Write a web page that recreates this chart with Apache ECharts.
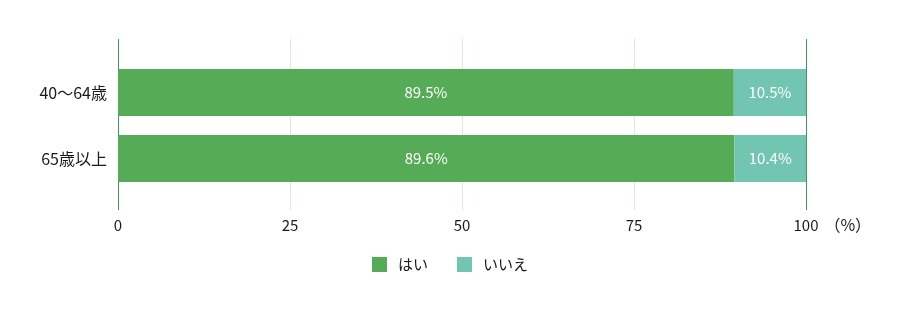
<!DOCTYPE html>
<html><head><meta charset="utf-8">
<script src="https://cdn.jsdelivr.net/npm/echarts@6/dist/echarts.min.js"></script>
<style>html,body{margin:0;padding:0;background:#fff}#c{width:900px;height:310px}</style>
</head><body><div id="c"></div>
<script>
const categories = ['40〜64歳', '65歳以上'];
const yesValues = [89.5, 89.6];
const noValues = [10.5, 10.4];
const seriesNames = ['はい', 'いいえ'];
const xTicks = [0, 25, 50, 75, 100];

const FONT = '"Noto Sans CJK JP", "Noto Sans", sans-serif';
const chart = echarts.init(document.getElementById('c'));
chart.setOption({
  animation: false,
  textStyle: { fontFamily: FONT },
  color: ['#55ab56', '#71c5b1'],
  grid: [
    { left: 118, width: 688, top: 39, height: 171 },
    { left: 118, width: 688, top: 59.5, height: 132 }
  ],
  xAxis: [
    {
      gridIndex: 0, type: 'value', min: xTicks[0], max: xTicks[xTicks.length - 1], interval: 25,
      axisLine: { show: false }, axisTick: { show: false },
      splitLine: { show: true, showMinLine: true, showMaxLine: true,
        lineStyle: { width: 1, color: ['#3a9a62', '#d6ebe7', '#d6ebe7', '#d6ebe7', '#3a9a62'] } },
      axisLabel: { color: '#1a1a1a', fontSize: 15, margin: 8, fontFamily: FONT },
      name: '（%）', nameLocation: 'end', nameGap: 9,
      nameTextStyle: { color: '#1a1a1a', fontSize: 16, verticalAlign: 'top', padding: [7, 0, 0, 0], fontFamily: FONT }
    },
    {
      gridIndex: 1, type: 'value', min: 0, max: 100, show: false
    }
  ],
  yAxis: [
    { gridIndex: 0, type: 'value', show: false },
    {
      gridIndex: 1, type: 'category', data: categories, inverse: true,
      axisLine: { show: false }, axisTick: { show: false },
      axisLabel: { color: '#1a1a1a', fontSize: 16, margin: 11, fontFamily: FONT }
    }
  ],
  legend: {
    bottom: 33, left: 'center', itemWidth: 15, itemHeight: 15, itemGap: 29,
    icon: 'rect', data: seriesNames,
    textStyle: { color: '#1a1a1a', fontSize: 15, fontFamily: FONT, padding: [0, 0, 0, 6] }
  },
  series: [
    {
      name: seriesNames[0], type: 'bar', stack: 'a', xAxisIndex: 1, yAxisIndex: 1,
      barWidth: 47, data: yesValues,
      label: { show: true, position: 'inside', color: '#fff', fontSize: 15, formatter: p => p.value.toFixed(1) + '%' }
    },
    {
      name: seriesNames[1], type: 'bar', stack: 'a', xAxisIndex: 1, yAxisIndex: 1,
      barWidth: 47, data: noValues,
      label: { show: true, position: 'inside', color: '#fff', fontSize: 15, formatter: p => p.value.toFixed(1) + '%' }
    }
  ]
});
</script></body></html>
